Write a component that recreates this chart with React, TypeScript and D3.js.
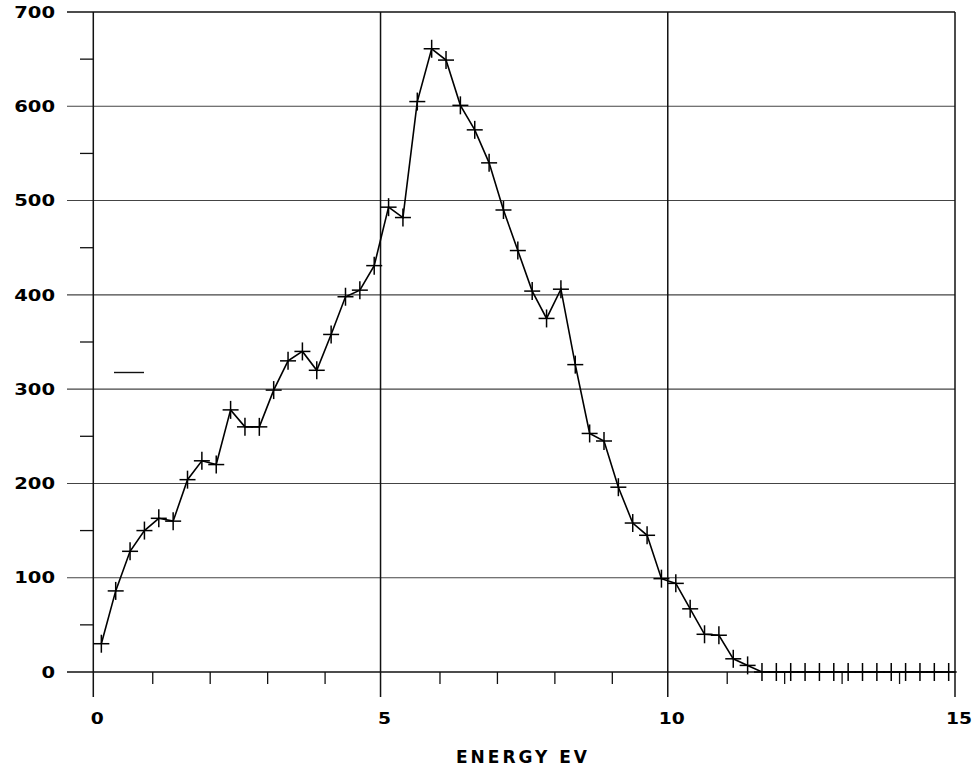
import React, { useEffect } from 'react';
import * as d3 from 'd3';

// energy bins (eV) and counts
const energies = [
  0.14, 0.39, 0.64, 0.89, 1.14, 1.39, 1.64, 1.89, 2.14, 2.39,
  2.64, 2.89, 3.14, 3.39, 3.64, 3.89, 4.14, 4.39, 4.64, 4.89,
  5.14, 5.39, 5.64, 5.89, 6.14, 6.39, 6.64, 6.89, 7.14, 7.39,
  7.64, 7.89, 8.14, 8.39, 8.64, 8.89, 9.14, 9.39, 9.64, 9.89,
  10.14, 10.39, 10.64, 10.89, 11.14, 11.39, 11.64, 11.89, 12.14, 12.39,
  12.64, 12.89, 13.14, 13.39, 13.64, 13.89, 14.14, 14.39, 14.64, 14.89,
];
const counts = [
  30, 86, 128, 150, 163, 160, 204, 224, 220, 278,
  260, 260, 299, 330, 340, 320, 358, 398, 405, 431,
  493, 482, 605, 661, 649, 601, 575, 540, 490, 447,
  404, 375, 406, 326, 253, 245, 196, 158, 145, 99,
  94, 67, 40, 39, 14, 7, 0, 0, 0, 0,
  0, 0, 0, 0, 0, 0, 0, 0, 0, 0,
];
const yTicks = [0, 100, 200, 300, 400, 500, 600, 700];
const yMinor = [50, 150, 250, 350, 450, 550, 650];
const xMajor = [0, 5, 10, 15];
const xMinor = [1, 2, 3, 4, 6, 7, 8, 9, 11, 12, 13, 14];
const xTitle = 'ENERGY EV';

const W = 978;
const H = 770;
const FONT = '"DejaVu Sans", Verdana, sans-serif';

export default function App() {
  useEffect(() => {
    document.body.style.margin = '0';
  }, []);

  const x = d3.scaleLinear().domain([0, 15]).range([93.3, 955]);
  const y = d3.scaleLinear().domain([0, 700]).range([672, 12]);

  const pts = energies.map((e, i) => [e, counts[i]] as [number, number]);
  const line = d3.line<[number, number]>()
    .x(d => x(d[0]))
    .y(d => y(d[1]));

  const gridLeft = 67;
  const axisBottom = 697;

  // plotter glyphs are wide, stretch text to the measured width
  const charW = 13.6;

  return (
    <svg width={W} height={H} style={{ display: 'block', background: '#fff' }}>
      {/* horizontal grid */}
      {yTicks.map(t => (
        <line key={'h' + t} x1={gridLeft} x2={x(15)} y1={y(t)} y2={y(t)}
          stroke={t === 0 || t === 700 ? '#111' : '#444'}
          strokeWidth={t === 0 || t === 700 ? 1.4 : 1.1} />
      ))}
      {/* vertical major lines */}
      {xMajor.map(t => (
        <line key={'v' + t} x1={x(t)} x2={x(t)} y1={y(700)} y2={axisBottom}
          stroke="#111" strokeWidth={1.5} />
      ))}
      {/* minor ticks */}
      {yMinor.map(t => (
        <line key={'ym' + t} x1={80} x2={x(0)} y1={y(t)} y2={y(t)}
          stroke="#111" strokeWidth={1.3} />
      ))}
      {xMinor.map(t => (
        <line key={'xm' + t} x1={x(t) + 2} x2={x(t) + 2} y1={y(0)} y2={684}
          stroke="#111" strokeWidth={1.3} />
      ))}

      {/* stray mark */}
      <line x1={114} x2={144} y1={372.5} y2={372.5} stroke="#111" strokeWidth={1.4} />

      {/* data */}
      <path d={line(pts) || ''} fill="none" stroke="#000" strokeWidth={1.6} />
      {pts.map((d, i) => (
        <g key={'p' + i} stroke="#000" strokeWidth={1.5}>
          <line x1={x(d[0]) - 8} x2={x(d[0]) + 8} y1={y(d[1])} y2={y(d[1])} />
          <line x1={x(d[0])} x2={x(d[0])} y1={y(d[1]) - 9} y2={y(d[1]) + 9} />
        </g>
      ))}

      {/* labels */}
      <g fontFamily={FONT} fontWeight="bold" fontSize={16} fill="#000">
        {yTicks.map(t => {
          const len = String(t).length * charW;
          return (
            <text key={'yl' + t} x={55 - len} y={y(t)} dy="0.36em"
              textLength={len} lengthAdjust="spacingAndGlyphs">{t}</text>
          );
        })}
        {xMajor.map(t => {
          const len = String(t).length * (charW - 0.6);
          return (
            <text key={'xl' + t} x={x(t) + 4 - len / 2} y={724}
              textLength={len} lengthAdjust="spacingAndGlyphs">{t}</text>
          );
        })}
        <text x={456} y={763} fontSize={17}
          textLength={131} lengthAdjust="spacing">{xTitle}</text>
      </g>
    </svg>
  );
}
